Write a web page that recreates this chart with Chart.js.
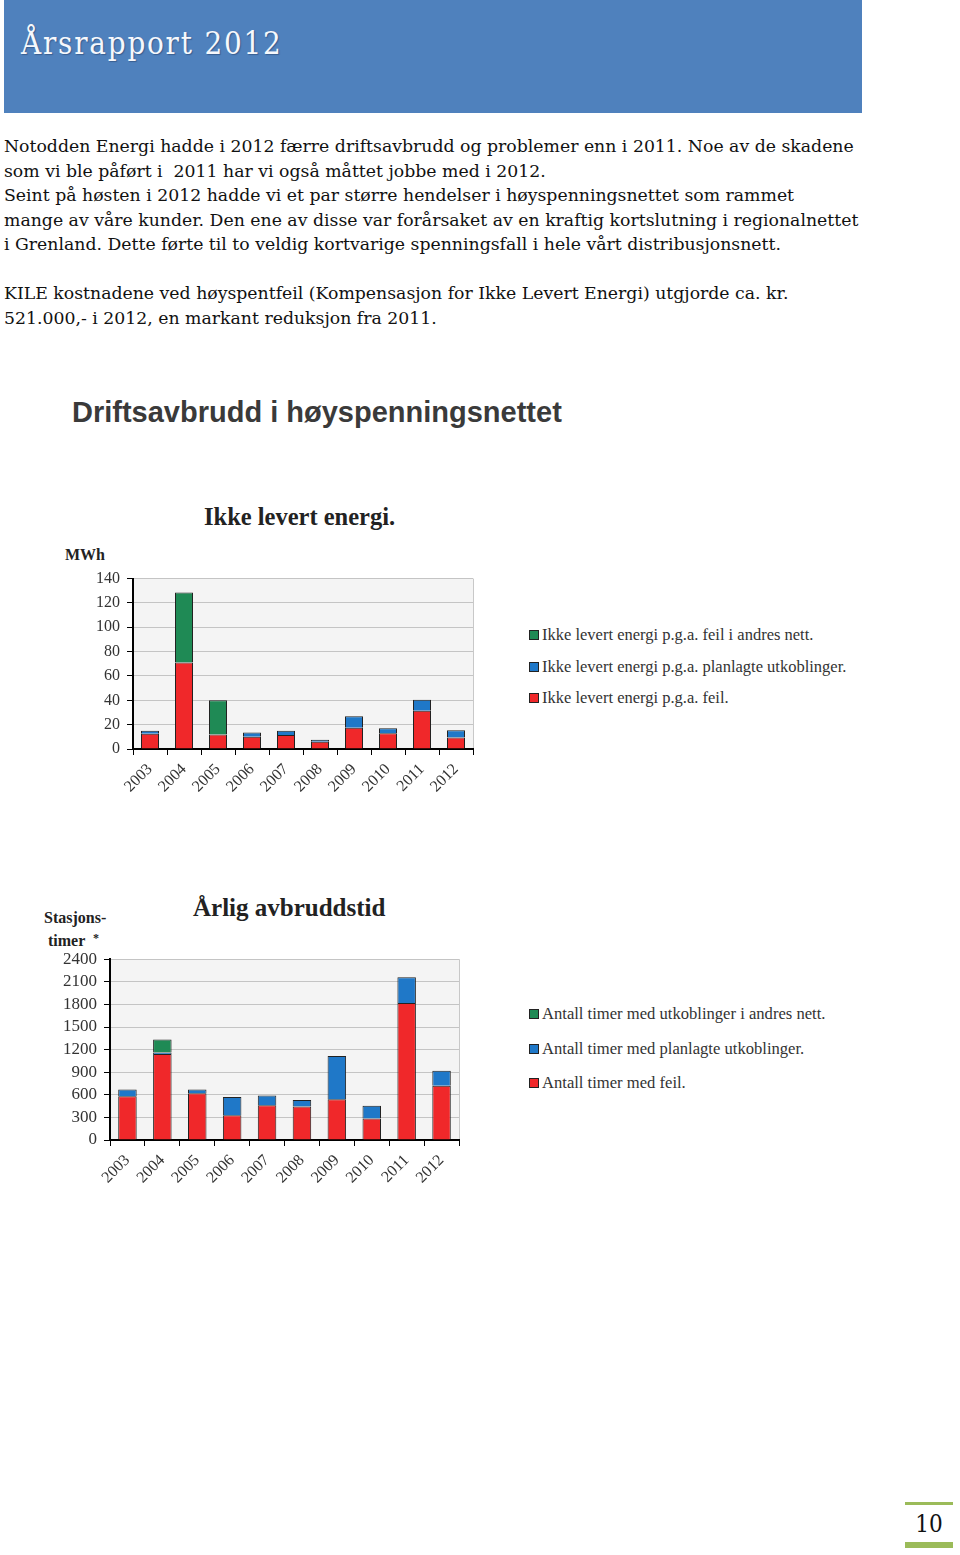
<!DOCTYPE html>
<html>
<head>
<meta charset="utf-8">
<script src="https://cdn.jsdelivr.net/npm/chart.js@4.4.1/dist/chart.umd.min.js"></script>
<style>
  body { margin: 0; width: 960px; height: 1555px; background: #fff; position: relative; overflow: hidden; }
  .abs { position: absolute; }
  #header { left: 4px; top: 0; width: 858px; height: 113px; background: #4f81bd; }
  #header span { position: absolute; left: 17px; top: 25px; font-family: "DejaVu Serif"; font-stretch: condensed; font-size: 31px; letter-spacing: 1.8px; color: #f6f8fc; text-shadow: 1px 1px 1px rgba(30,50,90,0.45); }
  #body { left: 4px; top: 134px; font-family: "DejaVu Serif"; font-size: 17.3px; line-height: 24.5px; color: #111; white-space: nowrap; }
  #heading { left: 72px; top: 396px; font-family: "Liberation Sans"; font-weight: bold; font-size: 29px; color: #3a3a3a; }
  .ctitle { font-family: "Liberation Serif"; font-weight: bold; font-size: 24.5px; color: #222; }
  .unit { font-family: "Liberation Serif"; font-weight: bold; font-size: 16px; color: #222; line-height: 20px; }
  .legend { font-family: "Liberation Serif"; color: #333; }
  .legend div { position: absolute; left: 0; white-space: nowrap; }
  .legend i { display: inline-block; width: 8px; height: 8px; border: 1px solid #222; margin-right: 3px; vertical-align: 0px; }
  #pagenum { left: 905px; top: 1510px; width: 48px; text-align: center; font-family: "DejaVu Serif"; font-stretch: condensed; font-size: 24px; color: #111; }
</style>
</head>
<body>
<div id="header" class="abs"><span>Årsrapport 2012</span></div>
<div id="body" class="abs">Notodden Energi hadde i 2012 færre driftsavbrudd og problemer enn i 2011. Noe av de skadene<br>som vi ble påført i&nbsp; 2011 har vi også måttet jobbe med i 2012.<br>Seint på høsten i 2012 hadde vi et par større hendelser i høyspenningsnettet som rammet<br>mange av våre kunder. Den ene av disse var forårsaket av en kraftig kortslutning i regionalnettet<br>i Grenland. Dette førte til to veldig kortvarige spenningsfall i hele vårt distribusjonsnett.<br><br>KILE kostnadene ved høyspentfeil (Kompensasjon for Ikke Levert Energi) utgjorde ca. kr.<br>521.000,- i 2012, en markant reduksjon fra 2011.</div>

<div id="heading" class="abs">Driftsavbrudd i høyspenningsnettet</div>

<div class="abs ctitle" style="left:204px; top:503px;">Ikke levert energi.</div>
<div class="abs unit" style="left:65px; top:545px;">MWh</div>
<div class="abs" style="left:60px; top:562px; width:420px; height:248px;"><canvas id="chart1"></canvas></div>
<div id="legend1" class="abs legend" style="left:529px; top:625px; font-size:16.5px;"></div>

<div class="abs ctitle" style="left:193px; top:894px; font-size:25px;">Årlig avbruddstid</div>
<div class="abs unit" style="left:44px; top:908px;">Stasjons-<br>&nbsp;timer &nbsp;<span style="font-size:12px; vertical-align:4px;">*</span></div>
<div class="abs" style="left:30px; top:942px; width:440px; height:258px;"><canvas id="chart2"></canvas></div>
<div id="legend2" class="abs legend" style="left:529px; top:1004px; font-size:16.6px;"></div>

<div class="abs" style="left:905px; top:1502px; width:48px; height:3px; background:#9bbb59;"></div>
<div id="pagenum" class="abs">10</div>
<div class="abs" style="left:905px; top:1542px; width:48px; height:6px; background:#9bbb59;"></div>

<script>
const years = ['2003', '2004', '2005', '2006', '2007', '2008', '2009', '2010', '2011', '2012'];

// Ikke levert energi (MWh)
const energi_feil = [12.5, 71, 12, 10, 11.5, 6, 17.5, 13, 31.5, 9.5];
const energi_planlagt = [2.5, null, null, 3.5, 3.5, 1.5, 9.5, 4, 9, 6];
const energi_andres = [null, 57.5, 28, null, null, null, null, null, null, null];
const energi_ticks = [0, 20, 40, 60, 80, 100, 120, 140];
const energi_labels = [
  'Ikke levert energi p.g.a. feil i andres nett.',
  'Ikke levert energi p.g.a. planlagte utkoblinger.',
  'Ikke levert energi p.g.a. feil.'
];

// Årlig avbruddstid (stasjonstimer)
const timer_feil = [580, 1140, 620, 330, 460, 445, 540, 285, 1820, 720];
const timer_planlagt = [90, 20, 50, 240, 130, 85, 575, 170, 340, 200];
const timer_andres = [null, 175, null, null, null, null, null, null, null, null];
const timer_ticks = [0, 300, 600, 900, 1200, 1500, 1800, 2100, 2400];
const timer_labels = [
  'Antall timer med utkoblinger i andres nett.',
  'Antall timer med planlagte utkoblinger.',
  'Antall timer med feil.'
];

const RED = '#f0282a';
const BLUE = '#1f78c8';
const GREEN = '#1f8a55';

const plotBg = {
  id: 'plotBg',
  beforeDraw(chart) {
    const a = chart.chartArea;
    const ctx = chart.ctx;
    ctx.save();
    ctx.fillStyle = '#f4f4f4';
    ctx.fillRect(a.left, a.top, a.right - a.left, a.bottom - a.top);
    ctx.strokeStyle = '#c8c8c8';
    ctx.lineWidth = 1;
    ctx.beginPath();
    ctx.moveTo(a.right + 0.5, a.top);
    ctx.lineTo(a.right + 0.5, a.bottom);
    ctx.stroke();
    ctx.restore();
  }
};

let makeChart = function(id, feil, planlagt, andres, ticks, yWidth, xHeight, pad, tickSize) {
  const bar = (label, data, color) => ({
    label: label, data: data, backgroundColor: color,
    borderColor: '#222', borderWidth: 1,
    barPercentage: 0.53, categoryPercentage: 1
  });
  return new Chart(document.getElementById(id), {
    type: 'bar',
    data: {
      labels: years,
      datasets: [
        bar('feil', feil, RED),
        bar('planlagt', planlagt, BLUE),
        bar('andres', andres, GREEN)
      ]
    },
    options: {
      responsive: true,
      maintainAspectRatio: false,
      animation: false,
      layout: { padding: pad },
      plugins: { legend: { display: false }, tooltip: { enabled: false } },
      scales: {
        x: {
          stacked: true,
          afterFit: s => { s.height = xHeight; },
          grid: { drawOnChartArea: false, drawTicks: true, tickLength: 6, color: '#000', tickColor: '#000' },
          border: { color: '#000', width: 2 },
          ticks: { minRotation: 45, maxRotation: 45, color: '#333', padding: 5,
                   font: { family: 'Liberation Serif', size: 16 } }
        },
        y: {
          stacked: true,
          min: ticks[0],
          max: ticks[ticks.length - 1],
          afterBuildTicks: s => { s.ticks = ticks.map(v => ({ value: v })); },
          afterFit: s => { s.width = yWidth; },
          grid: { color: '#c4c4c4', tickLength: 6, tickColor: '#000' },
          border: { color: '#000', width: 2 },
          ticks: { color: '#333', padding: 7, autoSkip: false, callback: v => String(v),
                   font: { family: 'Liberation Serif', size: tickSize } }
        }
      }
    },
    plugins: [plotBg]
  });
};

makeChart('chart1', energi_feil, energi_planlagt, energi_andres, energi_ticks, 73, 61,
  { top: 0, right: 7, left: 0, bottom: 0 }, 16);
makeChart('chart2', timer_feil, timer_planlagt, timer_andres, timer_ticks, 80, 60,
  { top: 0, right: 11, left: 0, bottom: 0 }, 17);

let makeLegend = function(id, labels, gap) {
  const colors = [GREEN, BLUE, RED];
  const el = document.getElementById(id);
  labels.forEach((txt, i) => {
    const d = document.createElement('div');
    d.style.top = (i * gap) + 'px';
    d.innerHTML = '<i style="background:' + colors[i] + '"></i>' + txt;
    el.appendChild(d);
  });
};
makeLegend('legend1', energi_labels, 31.5);
makeLegend('legend2', timer_labels, 34.5);
</script>
</body>
</html>
